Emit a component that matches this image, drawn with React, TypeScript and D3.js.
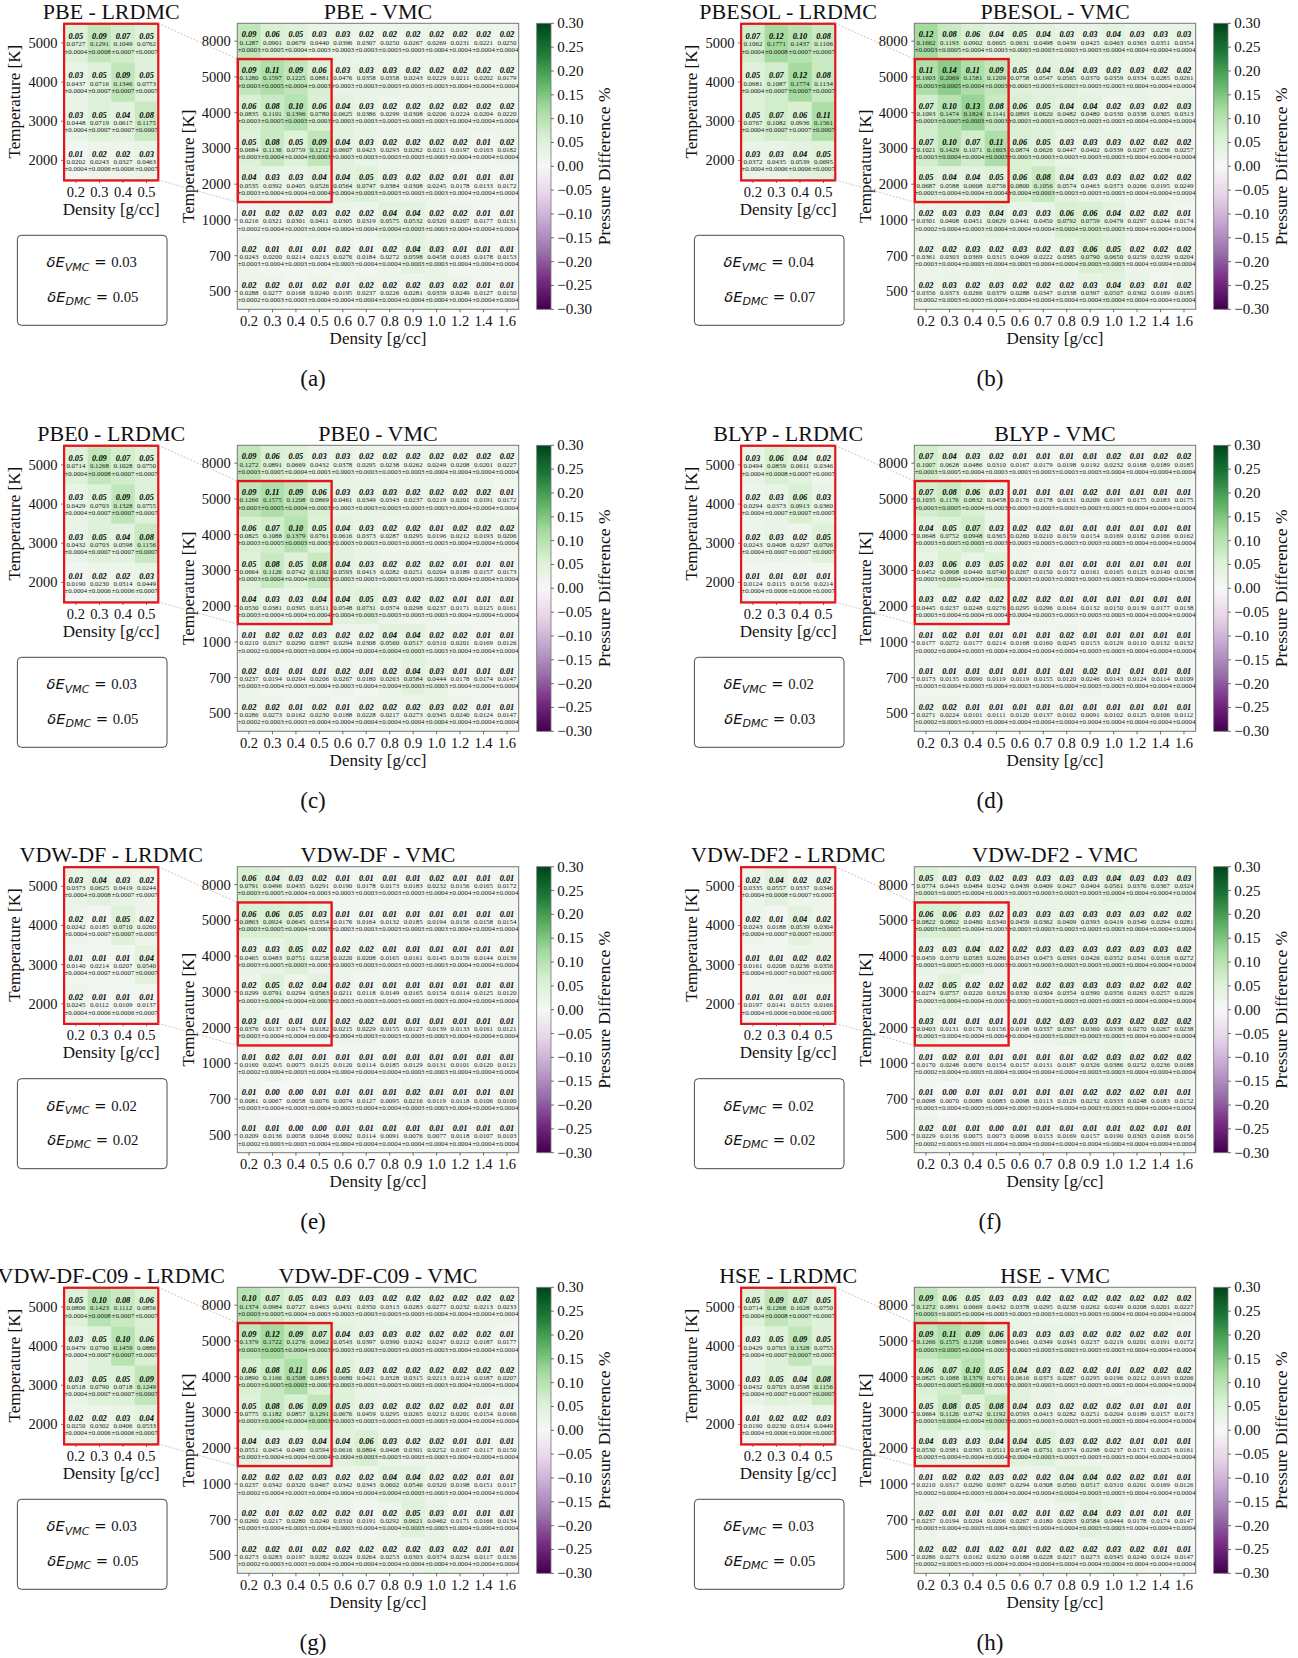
import React from "react";
import * as d3 from "d3";

const vmcDensity = ["0.2","0.3","0.4","0.5","0.6","0.7","0.8","0.9","1.0","1.2","1.4","1.6"];
const vmcTemp = ["8000","5000","4000","3000","2000","1000","700","500"];
const dmcDensity = ["0.2","0.3","0.4","0.5"];
const dmcTemp = ["5000","4000","3000","2000"];
const cbTicks = [0.3,0.25,0.2,0.15,0.1,0.05,0,-0.05,-0.1,-0.15,-0.2,-0.25,-0.3];
const prgnStops = ["#40004b","#762a83","#9970ab","#c2a5cf","#e7d4e8","#f7f7f7","#d9f0d3","#a6dba0","#5aae61","#1b7837","#00441b"];

const vmcErr = [
[3,5,4,3,3,3,3,3,4,4,4,4],
[3,5,4,3,3,3,3,3,3,4,4,4],
[3,5,3,3,3,3,3,3,3,4,4,4],
[3,4,4,3,3,3,3,3,3,4,4,4],
[3,4,4,4,4,3,3,3,3,4,4,4],
[2,4,3,4,4,4,4,3,3,4,4,4],
[3,4,3,4,3,4,4,3,3,4,4,4],
[2,3,3,4,4,4,4,4,4,4,4,4]];
const dmcErr = [[4,8,7,7],[4,7,7,7],[4,7,7,7],[4,6,6,7]];

const pbeVmcTop = [
[.09,.06,.05,.03,.03,.02,.02,.02,.02,.02,.02,.02],
[.09,.11,.09,.06,.03,.03,.03,.02,.02,.02,.02,.02],
[.06,.08,.10,.06,.04,.03,.02,.02,.02,.02,.02,.02],
[.05,.08,.05,.09,.04,.03,.02,.02,.02,.02,.01,.02],
[.04,.03,.03,.04,.04,.05,.03,.02,.02,.01,.01,.01],
[.01,.02,.02,.03,.02,.02,.04,.04,.02,.02,.01,.01],
[.02,.01,.01,.01,.02,.01,.02,.04,.03,.01,.01,.01],
[.02,.02,.01,.02,.01,.02,.02,.02,.03,.02,.01,.01]];
const pbeVmcMid = [
[.1287,.0901,.0679,.0440,.0396,.0307,.0250,.0267,.0269,.0231,.0221,.0250],
[.1280,.1597,.1225,.0881,.0476,.0358,.0358,.0243,.0229,.0211,.0202,.0179],
[.0835,.1101,.1396,.0780,.0625,.0386,.0299,.0308,.0206,.0224,.0204,.0220],
[.0684,.1136,.0759,.1212,.0607,.0423,.0293,.0262,.0211,.0197,.0163,.0182],
[.0535,.0392,.0405,.0526,.0564,.0747,.0384,.0308,.0245,.0178,.0133,.0172],
[.0216,.0321,.0301,.0411,.0305,.0319,.0575,.0532,.0320,.0207,.0177,.0131],
[.0243,.0200,.0214,.0213,.0276,.0184,.0272,.0598,.0458,.0183,.0178,.0153],
[.0288,.0277,.0168,.0240,.0195,.0237,.0226,.0281,.0359,.0249,.0127,.0150]];
const pbeDmcTop = [[.05,.09,.07,.05],[.03,.05,.09,.05],[.03,.05,.04,.08],[.01,.02,.02,.03]];
const pbeDmcMid = [[.0727,.1291,.1049,.0762],[.0437,.0716,.1346,.0773],[.0448,.0719,.0617,.1175],[.0202,.0243,.0327,.0463]];

const pbesolVmcTop = [
[.12,.08,.06,.04,.05,.04,.03,.03,.04,.03,.03,.03],
[.11,.14,.11,.09,.05,.04,.04,.03,.03,.03,.02,.02],
[.07,.10,.13,.08,.06,.05,.04,.04,.02,.03,.02,.03],
[.07,.10,.07,.11,.06,.05,.03,.03,.03,.02,.02,.02],
[.05,.04,.04,.05,.06,.08,.04,.03,.03,.02,.02,.02],
[.02,.03,.03,.04,.03,.03,.06,.06,.04,.02,.02,.01],
[.02,.02,.03,.02,.03,.02,.03,.06,.05,.02,.02,.02],
[.02,.03,.02,.03,.02,.02,.02,.03,.04,.03,.01,.02]];
const pbesolVmcMid = [
[.1662,.1193,.0902,.0605,.0631,.0498,.0439,.0425,.0463,.0363,.0351,.0354],
[.1603,.2069,.1581,.1209,.0758,.0547,.0565,.0370,.0359,.0334,.0285,.0261],
[.1093,.1474,.1824,.1141,.0893,.0620,.0482,.0480,.0330,.0338,.0305,.0313],
[.1021,.1429,.1071,.1603,.0874,.0626,.0447,.0402,.0339,.0297,.0236,.0257],
[.0687,.0588,.0608,.0756,.0800,.1056,.0574,.0463,.0373,.0266,.0195,.0249],
[.0301,.0408,.0451,.0629,.0441,.0450,.0792,.0759,.0479,.0297,.0244,.0174],
[.0361,.0303,.0369,.0315,.0409,.0222,.0385,.0790,.0650,.0259,.0239,.0204],
[.0356,.0373,.0266,.0379,.0288,.0347,.0338,.0397,.0507,.0362,.0169,.0185]];
const pbesolDmcTop = [[.07,.12,.10,.08],[.05,.07,.12,.08],[.05,.07,.06,.11],[.03,.03,.04,.05]];
const pbesolDmcMid = [[.1062,.1771,.1437,.1106],[.0681,.1087,.1774,.1134],[.0767,.1082,.0936,.1561],[.0372,.0435,.0539,.0695]];

const pbe0VmcTop = [
[.09,.06,.05,.03,.03,.02,.02,.02,.02,.02,.02,.02],
[.09,.11,.09,.06,.03,.03,.03,.02,.02,.02,.02,.01],
[.06,.07,.10,.05,.04,.03,.02,.02,.01,.02,.02,.02],
[.05,.08,.05,.08,.04,.03,.02,.02,.02,.01,.01,.01],
[.04,.03,.03,.04,.04,.05,.03,.02,.02,.01,.01,.01],
[.01,.02,.02,.03,.02,.02,.04,.04,.02,.02,.01,.01],
[.02,.01,.01,.01,.02,.01,.02,.04,.03,.01,.01,.01],
[.02,.02,.01,.02,.01,.02,.02,.02,.03,.02,.01,.01]];
const pbe0VmcMid = [
[.1272,.0891,.0669,.0432,.0378,.0295,.0238,.0262,.0249,.0208,.0201,.0227],
[.1266,.1575,.1208,.0869,.0461,.0349,.0343,.0237,.0219,.0201,.0191,.0172],
[.0825,.1088,.1379,.0761,.0616,.0373,.0287,.0295,.0196,.0212,.0193,.0206],
[.0664,.1126,.0742,.1192,.0593,.0413,.0282,.0251,.0204,.0189,.0157,.0173],
[.0530,.0381,.0395,.0511,.0548,.0731,.0374,.0298,.0237,.0171,.0125,.0161],
[.0210,.0317,.0290,.0397,.0294,.0308,.0560,.0517,.0310,.0201,.0169,.0126],
[.0237,.0194,.0204,.0206,.0267,.0180,.0263,.0584,.0444,.0178,.0174,.0147],
[.0286,.0273,.0162,.0230,.0188,.0228,.0217,.0273,.0345,.0240,.0124,.0147]];
const pbe0DmcTop = [[.05,.09,.07,.05],[.03,.05,.09,.05],[.03,.05,.04,.08],[.01,.02,.02,.03]];
const pbe0DmcMid = [[.0714,.1268,.1028,.0750],[.0429,.0703,.1328,.0755],[.0432,.0703,.0598,.1156],[.0190,.0230,.0314,.0449]];

const blypVmcTop = [
[.07,.04,.03,.02,.01,.01,.01,.01,.02,.01,.02,.02],
[.07,.08,.06,.03,.01,.01,.01,.02,.01,.01,.01,.01],
[.04,.05,.07,.03,.02,.02,.01,.01,.01,.01,.01,.01],
[.03,.06,.03,.05,.02,.01,.01,.01,.01,.01,.01,.01],
[.03,.02,.02,.02,.02,.02,.01,.01,.01,.01,.01,.01],
[.01,.02,.01,.01,.01,.01,.02,.01,.01,.01,.01,.01],
[.01,.01,.01,.01,.01,.01,.01,.02,.01,.01,.01,.01],
[.02,.02,.01,.01,.01,.01,.01,.01,.01,.01,.01,.01]];
const blypVmcMid = [
[.1007,.0628,.0486,.0310,.0167,.0179,.0198,.0192,.0232,.0168,.0189,.0185],
[.1035,.1176,.0832,.0458,.0176,.0178,.0131,.0209,.0197,.0175,.0183,.0175],
[.0648,.0752,.0948,.0365,.0260,.0210,.0159,.0154,.0169,.0182,.0166,.0162],
[.0452,.0908,.0440,.0740,.0267,.0150,.0172,.0161,.0165,.0123,.0140,.0138],
[.0445,.0237,.0248,.0276,.0295,.0296,.0164,.0132,.0150,.0139,.0177,.0138],
[.0177,.0272,.0177,.0214,.0168,.0160,.0245,.0153,.0129,.0110,.0132,.0132],
[.0173,.0135,.0090,.0119,.0119,.0155,.0120,.0246,.0143,.0124,.0114,.0109],
[.0271,.0224,.0101,.0111,.0120,.0137,.0102,.0091,.0102,.0125,.0106,.0112]];
const blypDmcTop = [[.03,.06,.04,.02],[.02,.03,.06,.03],[.02,.03,.02,.05],[.01,.01,.01,.01]];
const blypDmcMid = [[.0494,.0859,.0611,.0346],[.0294,.0373,.0913,.0360],[.0243,.0408,.0297,.0706],[.0124,.0115,.0156,.0214]];

const vdwVmcTop = [
[.06,.04,.03,.02,.01,.01,.01,.01,.02,.01,.01,.01],
[.06,.06,.05,.03,.01,.01,.01,.01,.01,.01,.01,.01],
[.03,.03,.05,.02,.02,.02,.01,.01,.01,.01,.01,.01],
[.02,.05,.02,.04,.02,.01,.01,.01,.01,.01,.01,.01],
[.03,.01,.01,.01,.02,.02,.01,.01,.01,.01,.01,.01],
[.01,.02,.01,.01,.01,.01,.01,.01,.01,.01,.01,.01],
[.01,.00,.00,.01,.01,.01,.01,.02,.01,.01,.01,.01],
[.01,.01,.00,.00,.01,.01,.01,.01,.01,.01,.01,.01]];
const vdwVmcMid = [
[.0791,.0496,.0435,.0291,.0190,.0178,.0173,.0183,.0232,.0156,.0165,.0172],
[.0863,.0924,.0645,.0354,.0176,.0164,.0132,.0185,.0194,.0156,.0158,.0154],
[.0465,.0483,.0751,.0258,.0220,.0208,.0165,.0161,.0145,.0159,.0144,.0139],
[.0299,.0791,.0294,.0563,.0211,.0118,.0149,.0165,.0154,.0114,.0125,.0120],
[.0376,.0137,.0174,.0182,.0215,.0229,.0155,.0127,.0139,.0133,.0161,.0121],
[.0160,.0245,.0075,.0125,.0120,.0114,.0185,.0129,.0131,.0101,.0120,.0121],
[.0081,.0067,.0058,.0076,.0074,.0127,.0095,.0216,.0119,.0118,.0106,.0100],
[.0209,.0136,.0058,.0048,.0092,.0114,.0091,.0076,.0077,.0118,.0107,.0103]];
const vdwDmcTop = [[.03,.04,.03,.02],[.02,.01,.05,.02],[.01,.01,.01,.04],[.02,.01,.01,.01]];
const vdwDmcMid = [[.0373,.0625,.0419,.0244],[.0242,.0185,.0710,.0260],[.0140,.0214,.0207,.0540],[.0245,.0112,.0109,.0137]];

const vdw2VmcTop = [
[.05,.03,.03,.02,.03,.03,.03,.03,.04,.03,.03,.03],
[.06,.06,.03,.02,.03,.03,.03,.03,.03,.03,.02,.02],
[.03,.03,.04,.02,.02,.03,.03,.03,.03,.03,.03,.02],
[.02,.05,.02,.02,.02,.02,.03,.03,.03,.02,.02,.02],
[.03,.01,.01,.01,.01,.02,.03,.03,.03,.02,.02,.02],
[.01,.02,.01,.01,.01,.01,.01,.02,.03,.02,.02,.02],
[.01,.00,.01,.01,.01,.01,.01,.02,.02,.02,.01,.01],
[.02,.01,.01,.00,.01,.01,.01,.01,.01,.02,.01,.01]];
const vdw2VmcMid = [
[.0774,.0443,.0484,.0342,.0439,.0409,.0427,.0404,.0561,.0376,.0367,.0324],
[.0822,.0802,.0480,.0340,.0459,.0362,.0409,.0393,.0419,.0349,.0294,.0281],
[.0459,.0370,.0583,.0286,.0343,.0473,.0393,.0426,.0352,.0341,.0318,.0272],
[.0274,.0757,.0220,.0326,.0330,.0304,.0354,.0390,.0356,.0263,.0257,.0226],
[.0403,.0131,.0170,.0156,.0198,.0337,.0367,.0360,.0338,.0270,.0267,.0238],
[.0170,.0248,.0076,.0154,.0157,.0131,.0187,.0326,.0386,.0252,.0236,.0188],
[.0098,.0070,.0089,.0083,.0098,.0113,.0129,.0232,.0333,.0248,.0183,.0152],
[.0229,.0136,.0075,.0073,.0098,.0153,.0169,.0157,.0190,.0303,.0168,.0156]];
const vdw2DmcTop = [[.02,.04,.02,.02],[.02,.01,.04,.02],[.01,.01,.02,.02],[.01,.01,.01,.01]];
const vdw2DmcMid = [[.0335,.0557,.0337,.0346],[.0243,.0188,.0539,.0304],[.0161,.0208,.0236,.0356],[.0197,.0141,.0153,.0166]];

const c09VmcTop = [
[.10,.07,.05,.03,.03,.03,.02,.02,.02,.02,.02,.02],
[.09,.12,.09,.07,.04,.03,.03,.02,.02,.02,.02,.01],
[.06,.08,.11,.06,.05,.03,.02,.02,.02,.02,.02,.02],
[.05,.08,.06,.09,.05,.03,.02,.02,.02,.02,.01,.01],
[.04,.03,.03,.04,.04,.06,.03,.02,.02,.01,.01,.01],
[.02,.02,.02,.03,.02,.02,.04,.04,.02,.02,.01,.01],
[.02,.01,.02,.02,.02,.01,.02,.05,.03,.01,.01,.01],
[.02,.02,.01,.02,.02,.02,.02,.02,.03,.02,.01,.01]];
const c09VmcMid = [
[.1374,.0984,.0727,.0463,.0431,.0350,.0313,.0283,.0277,.0232,.0213,.0233],
[.1379,.1722,.1276,.0962,.0543,.0397,.0390,.0242,.0247,.0212,.0187,.0177],
[.0890,.1166,.1508,.0893,.0680,.0421,.0328,.0315,.0213,.0214,.0187,.0207],
[.0775,.1182,.0857,.1291,.0676,.0459,.0295,.0265,.0212,.0201,.0154,.0166],
[.0551,.0454,.0480,.0594,.0616,.0804,.0408,.0301,.0252,.0167,.0117,.0150],
[.0237,.0342,.0320,.0467,.0342,.0343,.0602,.0546,.0320,.0198,.0151,.0117],
[.0260,.0217,.0280,.0240,.0310,.0191,.0292,.0621,.0462,.0171,.0166,.0134],
[.0273,.0283,.0197,.0282,.0224,.0264,.0253,.0303,.0374,.0234,.0117,.0136]];
const c09DmcTop = [[.05,.10,.08,.06],[.03,.05,.10,.06],[.03,.05,.05,.09],[.02,.02,.03,.04]];
const c09DmcMid = [[.0806,.1423,.1112,.0856],[.0479,.0790,.1459,.0886],[.0518,.0790,.0718,.1249],[.0250,.0302,.0406,.0533]];

const functionals = [
  { name: "PBE", tag: "(a)", vt: pbeVmcTop, vm: pbeVmcMid, dt: pbeDmcTop, dm: pbeDmcMid, eV: "0.03", eD: "0.05" },
  { name: "PBESOL", tag: "(b)", vt: pbesolVmcTop, vm: pbesolVmcMid, dt: pbesolDmcTop, dm: pbesolDmcMid, eV: "0.04", eD: "0.07" },
  { name: "PBE0", tag: "(c)", vt: pbe0VmcTop, vm: pbe0VmcMid, dt: pbe0DmcTop, dm: pbe0DmcMid, eV: "0.03", eD: "0.05" },
  { name: "BLYP", tag: "(d)", vt: blypVmcTop, vm: blypVmcMid, dt: blypDmcTop, dm: blypDmcMid, eV: "0.02", eD: "0.03" },
  { name: "VDW-DF", tag: "(e)", vt: vdwVmcTop, vm: vdwVmcMid, dt: vdwDmcTop, dm: vdwDmcMid, eV: "0.02", eD: "0.02" },
  { name: "VDW-DF2", tag: "(f)", vt: vdw2VmcTop, vm: vdw2VmcMid, dt: vdw2DmcTop, dm: vdw2DmcMid, eV: "0.02", eD: "0.02" },
  { name: "VDW-DF-C09", tag: "(g)", vt: c09VmcTop, vm: c09VmcMid, dt: c09DmcTop, dm: c09DmcMid, eV: "0.03", eD: "0.05" },
  { name: "HSE", tag: "(h)", vt: pbe0VmcTop, vm: pbe0VmcMid, dt: pbe0DmcTop, dm: pbe0DmcMid, eV: "0.03", eD: "0.05" },
];

const SERIF = "'Liberation Serif', serif";
const MATH = "'DejaVu Sans', sans-serif";
const colWidth = 677;
const rowTops = [23.3, 445.3, 866.7, 1287.3];
const AXC = "#333";

const color = d3.scaleLinear<string>()
  .domain(d3.range(11).map((i) => -0.3 + i * 0.06))
  .range(prgnStops)
  .interpolate(d3.interpolateRgb);

function Heat({ x0, y0, w, h, cols, rows, top, mid, err, xTickY, xLabelY, yLabelX }: any) {
  const xs = d3.scaleBand<string>().domain(cols).range([x0, x0 + w]);
  const ys = d3.scaleBand<string>().domain(rows).range([y0, y0 + h]);
  return (
    <g>
      {rows.map((r: string, i: number) =>
        cols.map((c: string, j: number) => {
          const cx = xs(c)! + xs.bandwidth() / 2;
          const cy = ys(r)! + ys.bandwidth() / 2;
          return (
            <g key={r + c}>
              <rect x={xs(c)} y={ys(r)} width={xs.bandwidth() + 0.3} height={ys.bandwidth() + 0.3} fill={color(top[i][j])} />
              <text x={cx} y={cy - 6.2} textAnchor="middle" dominantBaseline="central" fontSize={8.4} fontWeight="bold" fontStyle="italic" fill="#000">{top[i][j].toFixed(2)}</text>
              <text x={cx} y={cy + 1} textAnchor="middle" dominantBaseline="central" fontSize={6.9} fill="#1a1a1a">{mid[i][j].toFixed(4)}</text>
              <text x={cx} y={cy + 8.3} textAnchor="middle" dominantBaseline="central" fontSize={6.9} fill="#1a1a1a">{"\u00b1" + (err[i][j] / 10000).toFixed(4)}</text>
            </g>
          );
        })
      )}
      <rect x={x0} y={y0} width={w} height={h} fill="none" stroke="#777" strokeWidth={1} />
      {cols.map((c: string) => {
        const cx = xs(c)! + xs.bandwidth() / 2;
        return (
          <g key={c}>
            <line x1={cx} x2={cx} y1={y0 + h} y2={y0 + h + 3} stroke={AXC} strokeWidth={0.7} />
            <text x={cx} y={xTickY} textAnchor="middle" dominantBaseline="central" fontSize={14.5}>{c}</text>
          </g>
        );
      })}
      {rows.map((r: string) => {
        const cy = ys(r)! + ys.bandwidth() / 2;
        return (
          <g key={r}>
            <line x1={x0} x2={x0 - 3} y1={cy} y2={cy} stroke={AXC} strokeWidth={0.7} />
            <text x={x0 - 6.5} y={cy} textAnchor="end" dominantBaseline="central" fontSize={14.5}>{r}</text>
          </g>
        );
      })}
      <text x={x0 + w / 2} y={xLabelY} textAnchor="middle" dominantBaseline="central" fontSize={17}>Density [g/cc]</text>
      <text transform={`translate(${yLabelX},${y0 + h / 2}) rotate(-90)`} textAnchor="middle" dominantBaseline="central" fontSize={17}>Temperature [K]</text>
    </g>
  );
}

function Colorbar({ x0, y0, w, h, id }: any) {
  const y = d3.scaleLinear().domain([0.3, -0.3]).range([y0, y0 + h]);
  const steps = d3.range(11).map((i) => 0.3 - i * 0.06);
  return (
    <g>
      <defs>
        <linearGradient id={id} x1="0" y1="0" x2="0" y2="1">
          {steps.map((v, i) => (
            <stop key={i} offset={i / 10} stopColor={color(v)} />
          ))}
        </linearGradient>
      </defs>
      <rect x={x0} y={y0} width={w} height={h} fill={`url(#${id})`} stroke="#777" strokeWidth={0.8} />
      {cbTicks.map((t) => (
        <g key={t}>
          <line x1={x0 + w} x2={x0 + w + 3} y1={y(t)} y2={y(t)} stroke={AXC} strokeWidth={0.7} />
          <text x={x0 + w + 6.3} y={y(t)} dominantBaseline="central" fontSize={15}>{(t < 0 ? "\u2212" : "") + Math.abs(t).toFixed(2)}</text>
        </g>
      ))}
    </g>
  );
}

function EnergyLine({ cx, y, sub, val }: any) {
  return (
    <text x={cx} y={y} textAnchor="middle" fontSize={14.7} fontFamily={MATH}>
      <tspan fontStyle="italic">{"\u03b4E"}</tspan>
      <tspan fontStyle="italic" fontSize={11} dy={3.2}>{sub}</tspan>
      <tspan dy={-3.2}>{" = "}</tspan>
      <tspan fontFamily={SERIF} fontSize={14.7}>{val}</tspan>
    </text>
  );
}

function Panel({ f, dx, top, idx }: any) {
  const h = 286;
  const vmcX = 237.3 + dx;
  const vmcW = 281.4;
  const dmcX = 64.1 + dx;
  const dmcW = 94.2;
  const dmcH = 156.7;
  const cellH = h / 8;
  const boxTop = top + cellH;
  const boxBottom = top + cellH * 5;
  const boxRight = vmcX + (vmcW / 12) * 4;
  return (
    <g>
      <text x={dmcX + dmcW / 2} y={top - 11.8} textAnchor="middle" dominantBaseline="central" fontSize={22}>{f.name + " - LRDMC"}</text>
      <text x={vmcX + vmcW / 2} y={top - 11.8} textAnchor="middle" dominantBaseline="central" fontSize={22}>{f.name + " - VMC"}</text>
      <Heat x0={vmcX} y0={top} w={vmcW} h={h} cols={vmcDensity} rows={vmcTemp} top={f.vt} mid={f.vm} err={vmcErr}
        xTickY={top + h + 11.5} xLabelY={top + h + 29} yLabelX={vmcX - 49.3} />
      <Heat x0={dmcX} y0={top} w={dmcW} h={dmcH} cols={dmcDensity} rows={dmcTemp} top={f.dt} mid={f.dm} err={dmcErr}
        xTickY={top + dmcH + 11.5} xLabelY={top + dmcH + 29} yLabelX={dmcX - 49.6} />
      <rect x={dmcX} y={top + 0.5} width={dmcW} height={dmcH} fill="none" stroke="#e8141c" strokeWidth={2.2} />
      <rect x={vmcX + 0.5} y={boxTop} width={boxRight - vmcX} height={boxBottom - boxTop} fill="none" stroke="#e8141c" strokeWidth={2.4} />
      <line x1={dmcX + dmcW} y1={top} x2={vmcX} y2={boxTop} stroke="#bbb" strokeWidth={0.8} strokeDasharray="2 1.5" />
      <line x1={dmcX + dmcW} y1={top + dmcH} x2={vmcX} y2={boxBottom} stroke="#bbb" strokeWidth={0.8} strokeDasharray="2 1.5" />
      <rect x={17.4 + dx} y={top + 212} width={149.6} height={90} rx={4} fill="white" stroke="#333" strokeWidth={0.9} />
      <EnergyLine cx={91.7 + dx} y={top + 244} sub="VMC" val={f.eV} />
      <EnergyLine cx={92.8 + dx} y={top + 278.5} sub="DMC" val={f.eD} />
      <Colorbar id={`cb${idx}`} x0={536.7 + dx} y0={top} w={14.3} h={h} />
      <text transform={`translate(${603.5 + dx},${top + h / 2}) rotate(-90)`} textAnchor="middle" dominantBaseline="central" fontSize={17.6}>Pressure Difference %</text>
      <text x={313 + dx} y={top + 355} textAnchor="middle" dominantBaseline="central" fontSize={23}>{f.tag}</text>
    </g>
  );
}

export default function App() {
  return (
    <svg width={1298} height={1658} style={{ position: "absolute", left: 0, top: 0, background: "white" }} fontFamily={SERIF} fill="#111">
      {functionals.map((f, i) => (
        <Panel key={f.name} idx={i} f={f} dx={(i % 2) * colWidth} top={rowTops[Math.floor(i / 2)]} />
      ))}
    </svg>
  );
}
